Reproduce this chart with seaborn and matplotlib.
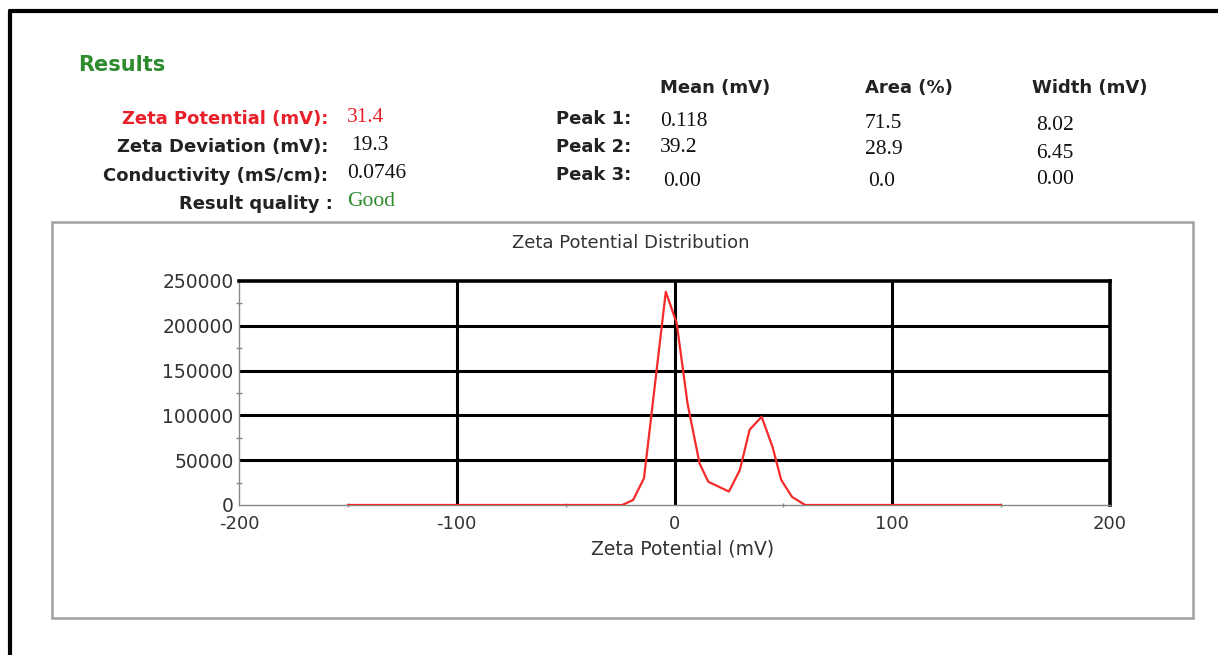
import matplotlib
matplotlib.use("Agg")
import matplotlib.pyplot as plt
from matplotlib.lines import Line2D
from matplotlib.patches import Rectangle
from matplotlib.ticker import MultipleLocator
import seaborn as sns
import pandas as pd

sns.set_theme(style="white")
plt.rcParams["font.family"] = ["DejaVu Sans"]
plt.rcParams["axes.unicode_minus"] = False

# Zeta potential distribution (mV vs. counts)
zeta_mv = [-150, -100, -50, -24, -19, -14, -4, 1, 6, 11.5, 15.5, 25, 30,
           34.5, 40, 45, 49, 54, 60, 100, 150]
counts = [0, 0, 0, 0, 5600, 30000, 238000, 203000, 113000, 46500, 26000,
          15000, 39000, 84000, 98500, 65000, 28000, 9000, 0, 0, 0]

# Summary results
summary_labels = ["Zeta Potential (mV):", "Zeta Deviation (mV):",
                  "Conductivity (mS/cm):", "Result quality :"]
summary_values = ["31.4", "19.3", "0.0746", "Good"]

# Peak table
peak_labels = ["Peak 1:", "Peak 2:", "Peak 3:"]
peak_headers = ["Mean (mV)", "Area (%)", "Width (mV)"]
peak_mean = ["0.118", "39.2", "0.00"]
peak_area = ["71.5", "28.9", "0.0"]
peak_width = ["8.02", "6.45", "0.00"]

x_ticks = [-200, -100, 0, 100, 200]
y_ticks = [0, 50000, 100000, 150000, 200000, 250000]

W, H = 1218, 655
fig = plt.figure(figsize=(W / 100, H / 100), dpi=100)
fig.patch.set_facecolor("white")


def fx(px):
    return px / W


def fy(py):
    return 1 - py / H


# outer frame (left and top edges)
fig.add_artist(Line2D([fx(10), fx(10)], [fy(11), fy(655)], color="black", lw=3,
                      transform=fig.transFigure))
fig.add_artist(Line2D([fx(10), fx(1218)], [fy(11), fy(11)], color="black", lw=3,
                      transform=fig.transFigure))

# chart panel box
fig.add_artist(Rectangle((fx(52), fy(618)), fx(1193) - fx(52), fy(222) - fy(618),
                         transform=fig.transFigure, fill=False,
                         edgecolor="#a0a0a0", lw=1.8))

# --- header text block ---
green = "#2e8b2e"
red = "#e8202a"
bold_size = 13
serif_size = 15.5
fig.text(fx(78), fy(65), "Results", color=green, fontsize=15,
         fontweight="bold", va="center", ha="left")

label_rows = [119, 147, 176, 204]
label_right = [328, 328, 328, 333]
label_colors = [red, "#222222", "#222222", "#222222"]
value_x = [347, 351, 347, 347]
value_colors = [red, "#111111", "#111111", green]
for lab, val, ry, rx, lc, vx, vc in zip(summary_labels, summary_values, label_rows,
                                        label_right, label_colors, value_x, value_colors):
    fig.text(fx(rx), fy(ry), lab, color=lc, fontsize=bold_size, fontweight="bold",
             ha="right", va="center")
    fig.text(fx(vx), fy(ry - 2), val, color=vc, fontsize=serif_size,
             family="Liberation Serif", ha="left", va="center")

header_x = [660, 865, 1032]
for hx, hd in zip(header_x, peak_headers):
    fig.text(fx(hx), fy(88), hd, color="#222222", fontsize=bold_size,
             fontweight="bold", ha="left", va="center")

peak_rows = [119, 147, 175]
for pl, py in zip(peak_labels, peak_rows):
    fig.text(fx(556), fy(py), pl, color="#222222", fontsize=bold_size,
             fontweight="bold", ha="left", va="center")

col_specs = [(peak_mean, [660, 660, 663], [122, 148, 182]),
             (peak_area, [865, 865, 868], [123, 149, 182]),
             (peak_width, [1036, 1036, 1036], [125, 153, 180])]
for vals, xs, ys in col_specs:
    for v, vx, vy in zip(vals, xs, ys):
        fig.text(fx(vx), fy(vy), v, color="#111111", fontsize=serif_size,
                 family="Liberation Serif", ha="left", va="center")

# chart title sits slightly left of the plot centre
fig.text(fx(631), fy(243), "Zeta Potential Distribution", fontsize=13,
         color="#333333", ha="center", va="center")

# --- distribution chart ---
ax = fig.add_axes([fx(239), fy(505), fx(1110) - fx(239), fy(281) - fy(505)])
df = pd.DataFrame({"zeta": zeta_mv, "counts": counts})
sns.lineplot(data=df, x="zeta", y="counts", color="#f52a2a", lw=1.6, ax=ax,
             zorder=5)

ax.set_xlim(x_ticks[0], x_ticks[-1])
ax.set_ylim(y_ticks[0], y_ticks[-1])
ax.set_xticks(x_ticks)
ax.set_yticks(y_ticks)
ax.set_xticklabels([str(t) for t in x_ticks])
ax.set_yticklabels([str(t) for t in y_ticks])
ax.yaxis.set_minor_locator(MultipleLocator(25000))
ax.xaxis.set_minor_locator(MultipleLocator(50))

for xv in x_ticks[1:-1]:
    ax.axvline(xv, color="black", lw=2.2, zorder=2)
for yv in y_ticks[1:-1]:
    ax.axhline(yv, color="black", lw=2.2, zorder=2)

for side in ["left", "bottom"]:
    ax.spines[side].set_color("#888888")
    ax.spines[side].set_linewidth(1.0)
for side in ["top", "right"]:
    ax.spines[side].set_color("black")
    ax.spines[side].set_linewidth(2.6)

ax.tick_params(axis="y", which="major", length=3, width=1, color="#888888",
               direction="out", pad=1, labelsize=13.5, labelcolor="#333333")
ax.tick_params(axis="y", which="minor", length=4, width=1, color="#888888",
               direction="inout", left=True)
ax.tick_params(axis="x", which="major", length=3, width=1, color="#888888",
               direction="out", pad=4, labelsize=13, labelcolor="#333333")
ax.tick_params(axis="x", which="minor", length=3, width=1, color="#888888",
               direction="inout", bottom=True)
ax.set_xlabel("Zeta Potential (mV)", fontsize=13.5, color="#333333")
ax.xaxis.set_label_coords((683 - 239) / (1110 - 239), -(549 - 505) / (505 - 281),
                          transform=ax.transAxes)
ax.xaxis.label.set_va("center")
ax.set_ylabel("")
ax.set_facecolor("white")

fig.savefig("out.png", dpi=100, facecolor="white")
